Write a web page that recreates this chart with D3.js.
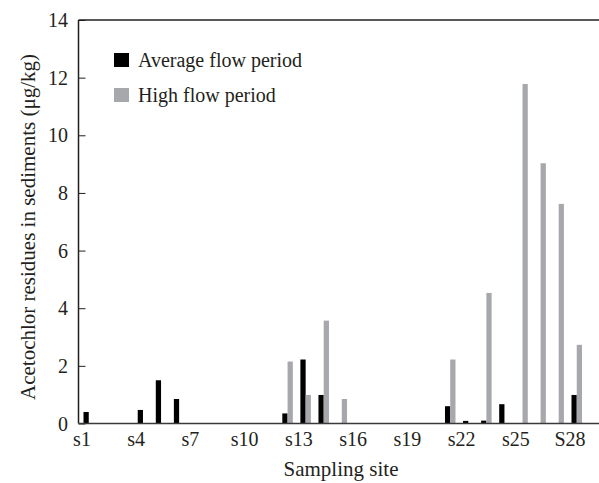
<!DOCTYPE html>
<html>
<head>
<meta charset="utf-8">
<script src="https://cdn.jsdelivr.net/npm/d3@7"></script>
<style>
  body { margin: 0; background: #fff; }
  svg text { font-family: "Liberation Serif", Tinos, "Times New Roman", Times, "DejaVu Serif", serif; fill: #231f20; }
</style>
</head>
<body>
<div id="wrapper"></div>
<script>
// data
const sites = d3.range(1, 29).map(i => 's' + i);
const tickSites = ['s1', 's4', 's7', 's10', 's13', 's16', 's19', 's22', 's25', 's28'];
const tickLabels = ['s1', 's4', 's7', 's10', 's13', 's16', 's19', 's22', 's25', 'S28'];
const averageFlow = [0.40, 0, 0, 0.47, 1.50, 0.85, 0, 0, 0, 0, 0, 0.35, 2.22, 0.99, 0,
  0, 0, 0, 0, 0, 0.60, 0.09, 0.10, 0.67, 0, 0, 0, 0.99];
const highFlow = [0, 0, 0, 0, 0, 0, 0, 0, 0, 0, 0, 2.15, 0.99, 3.57, 0.85,
  0, 0, 0, 0, 0, 2.22, 0, 4.53, 0, 11.78, 9.03, 7.62, 2.73];
const seriesNames = ['Average flow period', 'High flow period'];
const seriesColors = ['#000000', '#a7a8ab'];

// dimensions
const width = 599, height = 483;
const plot = { left: 78.5, right: 599, top: 20, bottom: 423.5 };
const serif = '"Liberation Serif", Tinos, "Times New Roman", Times, "DejaVu Serif", serif';

const svg = d3.select('#wrapper').append('svg')
  .attr('width', width).attr('height', height)
  .attr('font-family', serif);

// scales
const x = d3.scalePoint().domain(sites).range([82, 570]);
const y = d3.scaleLinear().domain([0, 14]).range([plot.bottom, plot.top]);
const sub = d3.scaleBand().domain(seriesNames).range([1.5, 12]);

// bars
const rows = sites.map((s, i) => ({ site: s, values: [averageFlow[i], highFlow[i]] }));
const groups = svg.append('g').selectAll('g').data(rows).join('g')
  .attr('transform', d => `translate(${x(d.site)},0)`);
groups.selectAll('rect')
  .data(d => d.values.map((v, k) => ({ v, k })).filter(e => e.v > 0))
  .join('rect')
  .attr('x', e => sub(seriesNames[e.k]))
  .attr('width', sub.bandwidth())
  .attr('y', e => y(e.v))
  .attr('height', e => y(0) - y(e.v))
  .attr('fill', e => seriesColors[e.k]);

// y axis (inward ticks)
const yAxis = svg.append('g')
  .attr('transform', `translate(${plot.left},0)`)
  .call(d3.axisRight(y).tickValues(d3.range(0, 15, 2)).tickSize(7).tickFormat(''));
yAxis.select('.domain').remove();
yAxis.selectAll('line').attr('stroke', '#231f20').attr('stroke-width', 1);
svg.append('g').selectAll('text').data(d3.range(0, 15, 2)).join('text')
  .attr('x', 68).attr('y', d => y(d) + 7)
  .attr('text-anchor', 'end').attr('font-size', 20).text(d => d);

// frame lines: left axis, top, bottom
svg.append('line').attr('x1', plot.left).attr('x2', plot.left)
  .attr('y1', plot.top).attr('y2', plot.bottom)
  .attr('stroke', '#231f20').attr('stroke-width', 1.5);
svg.append('line').attr('x1', plot.left).attr('x2', plot.right)
  .attr('y1', plot.top).attr('y2', plot.top)
  .attr('stroke', '#231f20').attr('stroke-width', 1.5);
svg.append('line').attr('x1', plot.left).attr('x2', plot.right)
  .attr('y1', plot.bottom).attr('y2', plot.bottom)
  .attr('stroke', '#3a3a3a').attr('stroke-width', 1.5);

// x labels
svg.append('g').selectAll('text').data(tickSites).join('text')
  .attr('x', d => x(d)).attr('y', 446)
  .attr('text-anchor', 'middle').attr('font-size', 20)
  .text((d, i) => tickLabels[i]);

// axis titles
svg.append('text').attr('x', 341).attr('y', 476)
  .attr('text-anchor', 'middle').attr('font-size', 21).text('Sampling site');
svg.append('text')
  .attr('transform', `translate(35,${227}) rotate(-90)`)
  .attr('text-anchor', 'middle').attr('font-size', 21)
  .text('Acetochlor residues in sediments (μg/kg)');

// legend
const legend = svg.append('g').selectAll('g').data(seriesNames).join('g')
  .attr('transform', (d, i) => `translate(114,${53 + i * 35})`);
legend.append('rect').attr('width', 15).attr('height', 14)
  .attr('fill', (d, i) => seriesColors[i]);
legend.append('text').attr('x', 24).attr('y', 13.5)
  .attr('font-size', 20).text(d => d);
</script>
</body>
</html>
